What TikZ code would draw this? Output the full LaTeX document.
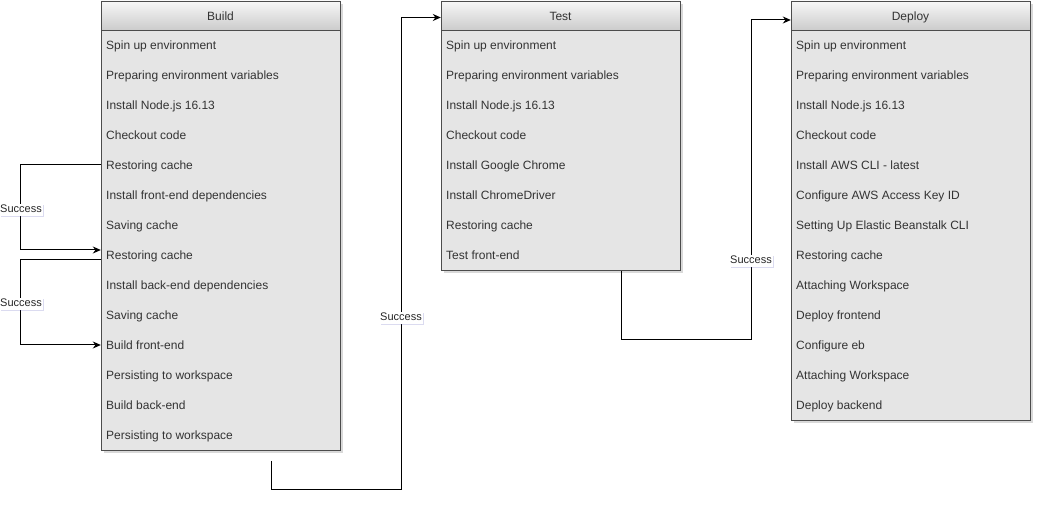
\documentclass[tikz,border=0pt]{standalone}
\usepackage{fontspec}
\setmainfont{Liberation Sans}
\usetikzlibrary{arrows.meta,shadows}
\tikzset{
  stagebox/.style={draw=gray!60!black, fill=gray!20, minimum width=239pt,
    drop shadow={shadow xshift=3pt, shadow yshift=-3pt, opacity=0.3, fill=gray}},
  hdr/.style={draw=gray!60!black, top color=gray!6, bottom color=gray!40,
    minimum width=239pt, minimum height=29pt, inner sep=0pt,
    text height=8.6pt, text depth=2.4pt,
    font=\fontsize{12}{14}\selectfont, text=black!80},
  row/.style={anchor=west, inner sep=0pt, text height=8.6pt, text depth=2.4pt,
    font=\fontsize{12}{14}\selectfont, text=black!80},
  conn/.style={line width=1pt, -{Stealth[length=8pt,width=7pt]}},
  lbl/.style={fill=white, inner sep=1pt, text height=8pt, text depth=2pt,
    font=\fontsize{11}{13}\selectfont, text=black!85,
    drop shadow={shadow xshift=1.5pt, shadow yshift=-1.5pt, opacity=0.2, fill=blue!40!gray}}
}
\begin{document}
\begin{tikzpicture}[x=1pt,y=-1pt]
  \useasboundingbox (0,0) rectangle (1042,510);
  % build
  \node[stagebox, minimum height=449pt] (build) at (220.5,225.5) {};
  \node[hdr] (buildhdr) at (220.5,15.5) {};
  \node[row, anchor=center] (buildttl) at (220.5,17) {Build};
  \foreach \t [count=\i] in {Spin up environment, Preparing environment variables,
      Install Node.js 16.13, Checkout code, Restoring cache, Install front-end dependencies,
      Saving cache, Restoring cache, Install back-end dependencies, Saving cache,
      Build front-end, Persisting to workspace, Build back-end, Persisting to workspace}
    \node[row] (b\i) at (106,16.5+30*\i) {\t};
  % test
  \node[stagebox, minimum height=269pt] (test) at (560.5,135.5) {};
  \node[hdr] (testhdr) at (560.5,15.5) {};
  \node[row, anchor=center] (testttl) at (560.5,17) {Test};
  \foreach \t [count=\i] in {Spin up environment, Preparing environment variables,
      Install Node.js 16.13, Checkout code, Install Google Chrome, Install ChromeDriver,
      Restoring cache, Test front-end}
    \node[row] (t\i) at (446,16.5+30*\i) {\t};
  % deploy
  \node[stagebox, minimum height=419pt] (deploy) at (910.5,210.5) {};
  \node[hdr] (deployhdr) at (910.5,15.5) {};
  \node[row, anchor=center] (deployttl) at (910.5,17) {Deploy};
  \foreach \t [count=\i] in {Spin up environment, Preparing environment variables,
      Install Node.js 16.13, Checkout code, Install AWS CLI - latest,
      Configure AWS Access Key ID, Setting Up Elastic Beanstalk CLI, Restoring cache,
      Attaching Workspace, Deploy frontend, Configure eb, Attaching Workspace, Deploy backend}
    \node[row] (d\i) at (796,16.5+30*\i) {\t};

  % connectors
  \draw[conn] ([yshift=1.5pt]build.west |- b5) -- ++(-80,0) |- ([yshift=6.5pt]build.west |- b8);
  \draw[conn] ([yshift=-3.5pt]build.west |- b8) -- ++(-80,0) |- ([yshift=1.5pt]build.west |- b11);
  \coordinate (bout) at (271,461);
  \coordinate (tout) at (621,271);
  \draw[conn] (bout) -- ++(0,29) -- ++(130,0) |- ([yshift=-2pt]testhdr.west);
  \draw[conn] (tout) -- ++(0,69) -- ++(130,0) |- ([yshift=-4.5pt]deployhdr.west);

  \node[lbl] (s1) at (21,210) {Success};
  \node[lbl] (s2) at (21,304) {Success};
  \node[lbl] (s3) at (401,318) {Success};
  \node[lbl] (s4) at (751,261) {Success};
\end{tikzpicture}
\end{document}
